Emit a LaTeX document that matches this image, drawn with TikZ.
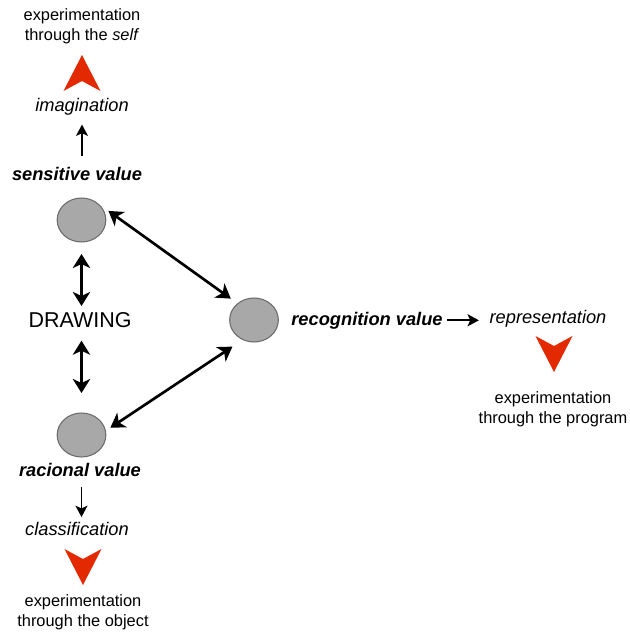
\documentclass[tikz,border=0pt]{standalone}
\usepackage{fontspec}
\setmainfont{Liberation Sans}
\usetikzlibrary{arrows.meta,shapes.geometric}
\definecolor{Flame}{HTML}{E32900}
\definecolor{Stone}{HTML}{A8A8A8}
\definecolor{Slate}{HTML}{6C6C6C}

\begin{document}
\begin{tikzpicture}[
      x=0.75pt, y=-0.75pt,
      val/.style={font=\fontsize{13.7}{16}\selectfont\bfseries\itshape, anchor=base},
      act/.style={font=\fontsize{13.7}{16}\selectfont\itshape, anchor=base},
      expnote/.style={font=\fontsize{12.3}{15}\selectfont, align=center},
      dot/.style={ellipse, draw=Slate, fill=Stone, line width=0.8pt,
                  minimum width=36.5pt, minimum height=33pt, inner sep=0pt},
      bigarrow/.style={{Stealth[length=10.5pt,width=13pt,inset=3pt]}-{Stealth[length=10.5pt,width=13pt,inset=3pt]},
                       line width=2pt},
      smallarrow/.style={-{Stealth[length=8.5pt,width=9pt,inset=2pt]}, line width=1.2pt},
      redhead/.pic={\fill[Flame] (0,0) -- (-18.5,-36) -- (0,-26) -- (18.5,-36) -- cycle;}
    ]
      \useasboundingbox (0,0) rectangle (629,632);
      % left column
      \node[expnote] (selfnote) at (82,26.7) {experimentation\\through the \textit{self}};
      \pic[rotate=180] at (82,55) {redhead};
      \node[act] (imag) at (82,111) {imagination};
      \node[val] (sens) at (77,180) {sensitive value};
      \node[dot] (dsen) at (81.5,220) {};
      \node[font=\fontsize{16.1}{19}\selectfont, anchor=base] (drawing) at (80,327) {DRAWING};
      \node[dot] (drac) at (81.5,435) {};
      \node[val] (rac) at (80,476.7) {racional value};
      \node[act] (clas) at (77,535) {classification};
      \pic at (83,585) {redhead};
      \node[expnote] (objnote) at (83,612.4) {experimentation\\through the object};
      % right side
      \node[dot] (drec) at (254,320) {};
      \node[val] (rec) at (367,325) {recognition value};
      \node[act] (repr) at (548,323.3) {representation};
      \pic at (554,372) {redhead};
      \node[expnote] (prognote) at (553,409.7) {experimentation\\through the program};
      % connectors
      \draw[smallarrow, shorten <=4.5pt, shorten >=3.8pt] (sens.north -| imag) -- (imag.south);
      \draw[bigarrow, shorten <=8.6pt, shorten >=1pt] (dsen.south) -- (dsen.south |- drawing.north);
      \draw[bigarrow, shorten <=6.6pt, shorten >=14.6pt] (drac.north |- drawing.south) -- (drac.north);
      \draw[bigarrow, shorten <=8pt, shorten >=6pt] (dsen.40) -- (drec.135);
      \draw[bigarrow, shorten <=4pt, shorten >=9pt] (drac.10) -- (drec.240);
      \draw[smallarrow, shorten <=4pt] (rac.south -| drac) -- (clas.north -| drac);
      \draw[smallarrow, line width=1.6pt, shorten >=4.5pt] (rec.east) -- (rec.east -| repr.west);
\end{tikzpicture}
\end{document}
